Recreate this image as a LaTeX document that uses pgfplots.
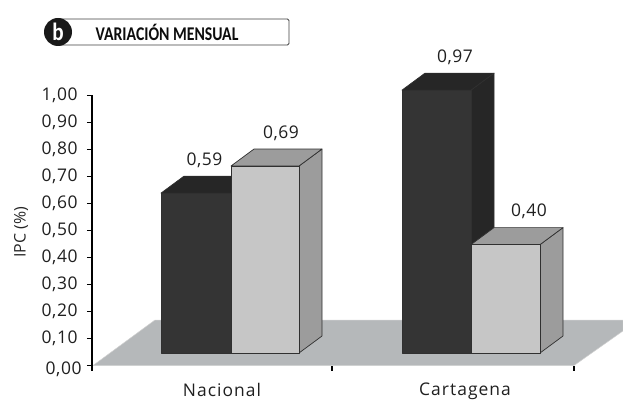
\documentclass[border=0pt]{standalone}
\usepackage{fontspec}
\setmainfont{Open Sans}
\newfontfamily\headfont{Carlito}
\usepackage{pgfplots}
\pgfplotsset{compat=1.18}

\definecolor{floorgray}{HTML}{B5B8BA}
\definecolor{darkfront}{HTML}{343434}
\definecolor{darkside}{HTML}{262626}
\definecolor{lightfront}{HTML}{C6C6C6}
\definecolor{lightside}{HTML}{9C9C9C}
\definecolor{edge}{HTML}{303030}

\pgfplotsset{
  face/.style={draw=edge, line width=0.7bp, line join=round},
}

\begin{document}
\begin{tikzpicture}
\useasboundingbox (0,0) rectangle (623bp,410bp);

% axes and floor
\begin{axis}[
    at={(92bp,44.5bp)}, anchor=south west,
    scale only axis,
    x=1bp, y=270bp,
    xmin=92, xmax=574, ymin=0, ymax=1,
    clip=false,
    axis on top,
    axis y line=left, axis x line=bottom,
    axis line style={-},
    x axis line style={draw=none},
    y axis line style={line width=1.1bp, black},
    tick align=outside,
    major tick length=5bp,
    tick style={line width=1.1bp, black},
    xtick={92,332,574}, xticklabels={},
    extra x ticks={222,465},
    extra x tick labels={Nacional,Cartagena},
    extra x tick style={major tick length=0pt, tick style={draw=none}},
    ytick={0.1,0.2,0.3,0.4,0.5,0.6,0.7,0.8,0.9,1},
    extra y ticks={0},
    extra y tick style={yticklabel style={xshift=4bp, yshift=-4bp}},
    /pgf/number format/.cd, fixed, fixed zerofill, precision=2, use comma, assume math mode=true,
    /pgfplots/.cd,
    tick label style={font=\fontsize{17.5}{17.5}\selectfont\addfontfeatures{LetterSpace=3}, text=black!88},
    xticklabel style={yshift=-14bp, font=\fontsize{17.5}{17.5}\selectfont\addfontfeatures{LetterSpace=6}},
    yticklabel style={xshift=-6bp},
    ylabel={IPC (\%)},
    ylabel style={at={(axis description cs:-0.147,0.494)}, anchor=center,
      font=\fontsize{16}{16}\selectfont, text=black!85},
]
\addplot[fill=floorgray, draw=black!18, line width=0.5bp] coordinates {
  (93,0) (574,0) (623,0.128) (623,0.1685) (155,0.1685)
} --cycle;
\end{axis}

% bars, same x scale, y zero at the foot of the front faces
\begin{axis}[
    at={(92bp,44.5bp)}, anchor=south west,
    scale only axis,
    x=1bp, y=271bp,
    xmin=92, xmax=574, ymin=-0.0461, ymax=1,
    clip=false,
    hide axis,
    /pgf/number format/.cd, fixed, fixed zerofill, precision=2, use comma, assume math mode=true,
    /pgfplots/.cd,
]
% Nacional, dark
\addplot[face, fill=darkside] coordinates {(231,0) (254,0.0627) (254,0.6527) (231,0.59)} --cycle;
\addplot[face, fill=darkside] coordinates {(161,0.59) (231,0.59) (254,0.6527) (184,0.6527)} --cycle;
\addplot[ybar, bar width=70, bar shift=0pt, face, fill=darkfront] coordinates {(196,0.59)};
% Nacional, light
\addplot[face, fill=lightside] coordinates {(299,0) (322,0.0627) (322,0.7527) (299,0.69)} --cycle;
\addplot[face, fill=lightside] coordinates {(231,0.69) (299,0.69) (322,0.7527) (254,0.7527)} --cycle;
\addplot[ybar, bar width=68, bar shift=0pt, face, fill=lightfront] coordinates {(265,0.69)};
% Cartagena, dark
\addplot[face, fill=darkside] coordinates {(471,0) (494,0.0627) (494,1.0327) (471,0.97)} --cycle;
\addplot[face, fill=darkside] coordinates {(402,0.97) (471,0.97) (494,1.0327) (425,1.0327)} --cycle;
\addplot[ybar, bar width=69, bar shift=0pt, face, fill=darkfront] coordinates {(436.5,0.97)};
% Cartagena, light
\addplot[face, fill=lightside] coordinates {(540,0) (563,0.0627) (563,0.4627) (540,0.40)} --cycle;
\addplot[face, fill=lightside] coordinates {(471,0.40) (540,0.40) (563,0.4627) (494,0.4627)} --cycle;
\addplot[ybar, bar width=69, bar shift=0pt, face, fill=lightfront] coordinates {(505.5,0.40)};
% value labels
\addplot[draw=none, nodes near coords, point meta=y,
  nodes near coords align=center,
  every node near coord/.append style={yshift=33bp, text=black!88,
    font=\fontsize{17.5}{17.5}\selectfont\addfontfeatures{LetterSpace=3}}]
  coordinates {(204.5,0.59) (281,0.69) (455,0.97) (529,0.40)};
\end{axis}

% heading
\draw[black!75, line width=0.8bp, rounded corners=1.5bp, fill=white]
  (58bp,365bp) rectangle (289bp,391bp);
\fill[black!90] (58bp,378bp) circle (14bp);
\node[text=white, font=\headfont\bfseries\fontsize{25}{25}\selectfont] at (58bp,378.5bp) {\scalebox{0.85}[1]{b}};
\node[text=black!95, font=\headfont\bfseries\fontsize{19.5}{19.5}\selectfont] at (167bp,378bp) {\scalebox{0.81}[1]{VARIACIÓN MENSUAL}};
\end{tikzpicture}
\end{document}
